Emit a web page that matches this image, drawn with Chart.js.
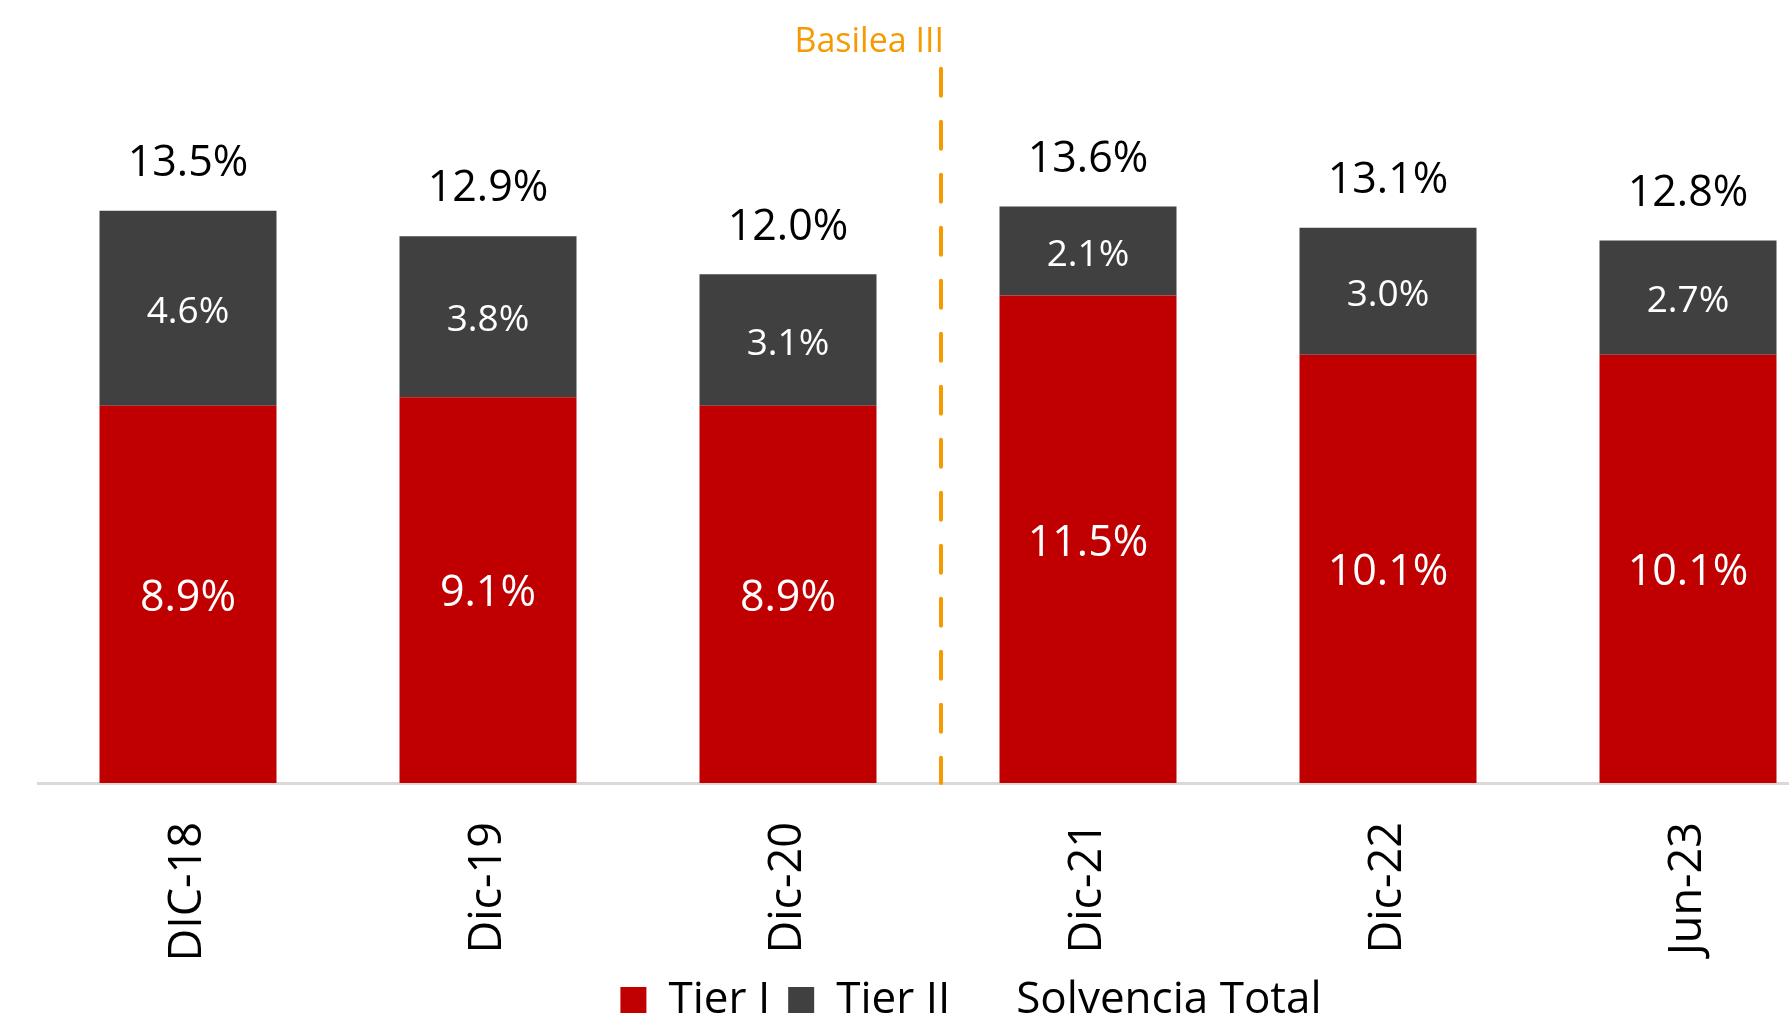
<!DOCTYPE html>
<html>
<head>
<meta charset="utf-8">
<script src="https://cdn.jsdelivr.net/npm/chart.js@4.4.1/dist/chart.umd.min.js"></script>
<style>
  html, body { margin:0; padding:0; background:#fff; overflow:hidden; }
  #caja { width:1942px; height:1020px; }
</style>
</head>
<body>
<div id="caja"><canvas id="Grafico1" width="1942" height="1020"></canvas></div>
<script>
// datos del grafico
const periodos = ['DIC-18', 'Dic-19', 'Dic-20', 'Dic-21', 'Dic-22', 'Jun-23'];
const tier1 = [8.9, 9.1, 8.9, 11.5, 10.1, 10.1];
const tier2 = [4.6, 3.8, 3.1, 2.1, 3.0, 2.7];
const solvencia = [13.5, 12.9, 12.0, 13.6, 13.1, 12.8];
const basileaPos = 2.5;     // entre Dic-20 y Dic-21
const basileaTope = 16.9;   // altura donde empieza la linea

const fuente = "'Open Sans', 'Noto Sans', sans-serif";
Chart.defaults.font.family = fuente;

// etiquetas de valores dentro y encima de las barras
const etiquetas = {
    id: 'etiquetas',
    afterDatasetsDraw(chart) {
        const ctx = chart.ctx;
        ctx.save();
        ctx.textAlign = 'center';
        ctx.textBaseline = 'middle';
        chart.data.datasets.forEach((ds, i) => {
            const meta = chart.getDatasetMeta(i);
            meta.data.forEach((el, j) => {
                const txt = Number(ds.data[j]).toFixed(1) + '%';
                if (ds.type === 'line') {
                    ctx.fillStyle = '#000';
                    ctx.font = '43px ' + fuente;
                    ctx.fillText(txt, el.x, el.y - 47);
                } else {
                    ctx.fillStyle = '#fff';
                    ctx.font = (i === 0 ? '43px ' : '37px ') + fuente;
                    ctx.fillText(txt, el.x, (el.y + el.base) / 2 + 4);
                }
            });
        });
        ctx.restore();
    }
};

// linea punteada de Basilea III
const basilea = {
    id: 'basilea',
    afterDatasetsDraw(chart) {
        const ctx = chart.ctx;
        const x = chart.scales.x.getPixelForValue(basileaPos) + 3;
        const yTop = chart.scales.y.getPixelForValue(basileaTope);
        const yBase = chart.scales.y.getPixelForValue(0);
        ctx.save();
        ctx.strokeStyle = '#f59a00';
        ctx.lineWidth = 4;
        ctx.lineCap = 'round';
        ctx.setLineDash([27, 26]);
        ctx.beginPath();
        ctx.moveTo(x, yTop + 2);
        ctx.lineTo(x, yBase);
        ctx.stroke();
        ctx.setLineDash([]);
        ctx.fillStyle = '#f59a00';
        ctx.font = '34px ' + fuente;
        ctx.textAlign = 'right';
        ctx.textBaseline = 'middle';
        ctx.fillText('Basilea III', x + 3, yTop - 24);
        ctx.restore();
    }
};

// corre la leyenda a la derecha
const moverLeyenda = {
    id: 'moverLeyenda',
    afterLayout(chart) {
        chart.legend.left += 33;
        chart.legend.right += 33;
    }
};

let canvasG1 = document.getElementById('Grafico1').getContext('2d');
let datos = {
    labels: periodos,
    datasets: [{
        label: 'Tier I',
        data: tier1,
        backgroundColor: '#c00000',
        stack: 'barras'
    }, {
        label: 'Tier II',
        data: tier2,
        backgroundColor: '#404040',
        stack: 'barras'
    }, {
        type: 'line',
        label: 'Solvencia Total',
        data: solvencia,
        stack: 'total',
        showLine: false,
        pointRadius: 0,
        borderColor: 'rgba(0,0,0,0)',
        backgroundColor: 'rgba(0,0,0,0)'
    }]
};
let opciones = {
    responsive: false,
    animation: false,
    layout: { padding: { left: 38, right: 104, top: 20, bottom: 0 } },
    datasets: { bar: { barPercentage: 0.59, categoryPercentage: 1 } },
    plugins: {
        tooltip: { enabled: false },
        legend: {
            position: 'bottom',
            maxHeight: 60,
            labels: {
                color: '#000',
                boxWidth: 26,
                boxHeight: 26,
                padding: 18,
                font: { size: 44 }
            }
        }
    },
    scales: {
        x: {
            stacked: true,
            grid: { display: false },
            border: { display: true, color: '#d9d9d9', width: 3 },
            ticks: {
                color: '#000',
                font: { size: 45 },
                minRotation: 90,
                maxRotation: 90,
                padding: 31
            },
            afterFit(scale) { scale.height = 177; }
        },
        y: {
            stacked: true,
            display: false,
            min: 0,
            max: 18
        }
    }
};
let G1 = new Chart(canvasG1, {
    type: 'bar',
    data: datos,
    options: opciones,
    plugins: [etiquetas, basilea, moverLeyenda]
});
</script>
</body>
</html>
